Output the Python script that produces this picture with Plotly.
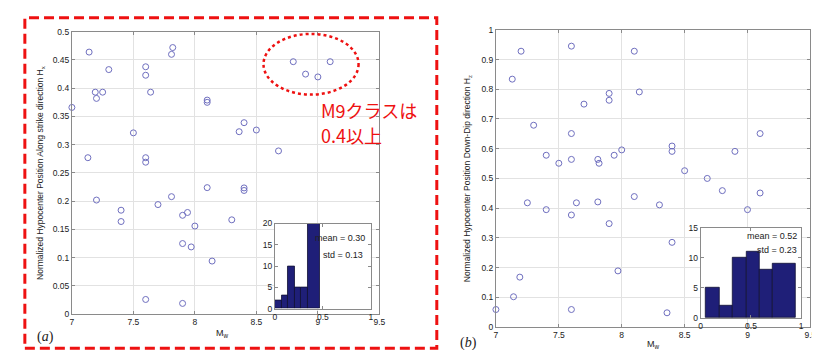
import numpy as np
import plotly.graph_objects as go

# ---------------- data ----------------
left_mw = [7.0, 7.14, 7.19, 7.25, 7.2, 7.3, 7.13, 7.5, 7.6, 7.6, 7.64, 7.6, 7.6, 7.82, 7.81,
           8.1, 8.1, 8.4, 8.36, 8.5, 8.68, 8.8, 8.9, 9.0, 9.1, 8.1, 8.4, 8.4, 7.2, 7.4, 7.4,
           7.7, 7.81, 7.9, 7.94, 8.0, 8.3, 7.9, 7.97, 8.14, 7.6, 7.9]
left_hx = [0.366, 0.464, 0.393, 0.393, 0.382, 0.433, 0.277, 0.321, 0.438, 0.423, 0.393, 0.277,
           0.269, 0.472, 0.46, 0.379, 0.375, 0.339, 0.323, 0.326, 0.289, 0.447, 0.425, 0.42,
           0.447, 0.224, 0.2235, 0.219, 0.202, 0.184, 0.164, 0.194, 0.208, 0.175, 0.18, 0.156,
           0.167, 0.125, 0.119, 0.094, 0.026, 0.019]

right_mw = [7.2, 7.13, 7.6, 8.1, 8.14, 7.9, 7.9, 7.7, 7.3, 7.6, 9.1, 7.4, 7.5, 7.6, 7.81, 7.82,
            7.94, 8.0, 8.4, 8.4, 8.9, 8.5, 8.68, 8.8, 9.1, 9.0, 7.25, 7.4, 7.6, 7.64, 7.81, 8.1,
            8.3, 7.9, 8.4, 7.97, 7.19, 7.14, 7.0, 7.6, 8.36]
right_hz = [0.928, 0.834, 0.945, 0.928, 0.791, 0.786, 0.763, 0.75, 0.679, 0.651, 0.651, 0.578,
            0.551, 0.564, 0.564, 0.551, 0.578, 0.596, 0.609, 0.591, 0.591, 0.526, 0.5, 0.459,
            0.451, 0.395, 0.418, 0.395, 0.377, 0.418, 0.421, 0.439, 0.411, 0.348, 0.285, 0.189,
            0.168, 0.102, 0.059, 0.059, 0.048]

left_hist_edges = [0.0, 0.069, 0.138, 0.207, 0.276, 0.345, 0.465]
left_hist_counts = [2, 3, 10, 5, 5, 20]
right_hist_edges = [0.05, 0.19, 0.323, 0.455, 0.587, 0.72, 0.95]
right_hist_counts = [5, 2, 10, 11, 8, 9]

left_stats = ["mean = 0.30", "std = 0.13"]
right_stats = ["mean = 0.52", "std = 0.23"]

left_ytitle = "Normalized Hypocenter Position Along strike direction H<sub>x</sub>"
right_ytitle = "Normalized Hypocenter Position Down-Dip direction H<sub>z</sub>"
xtitle = "M<sub>w</sub>"
note_lines = ["M9クラスは", "0.4以上"]

# ---------------- styling ----------------
W, H = 820, 350
FONT = "Liberation Sans, Arial, sans-serif"
MARK = "#6f6fbf"
BAR = "#1f1f78"
RED = "#ee1111"
AXC = "#8a8a8a"
GRID = "#e2e2e2"
TXT = "#222222"


def px_x(p):
    return p / W


def px_y(p):
    return 1 - p / H


def centers_widths(edges):
    e = np.array(edges)
    return (e[:-1] + e[1:]) / 2, np.diff(e)


fig = go.Figure()

fig.add_trace(go.Scatter(x=left_mw, y=left_hx, mode="markers", xaxis="x", yaxis="y",
                         marker=dict(symbol="circle-open", size=6, color=MARK, line=dict(width=1)),
                         cliponaxis=False, showlegend=False))
fig.add_trace(go.Scatter(x=right_mw, y=right_hz, mode="markers", xaxis="x2", yaxis="y2",
                         marker=dict(symbol="circle-open", size=6, color=MARK, line=dict(width=1)),
                         cliponaxis=False, showlegend=False))

lc, lw = centers_widths(left_hist_edges)
fig.add_trace(go.Bar(x=lc, y=left_hist_counts, width=lw, xaxis="x3", yaxis="y3",
                     marker=dict(color=BAR, line=dict(color="#111133", width=0.8)),
                     showlegend=False))
rc, rw = centers_widths(right_hist_edges)
fig.add_trace(go.Bar(x=rc, y=right_hist_counts, width=rw, xaxis="x4", yaxis="y4",
                     marker=dict(color=BAR, line=dict(color="#111133", width=0.8)),
                     showlegend=False))

common = dict(showline=True, linecolor=AXC, linewidth=1, mirror="ticks", ticks="inside",
              ticklen=3, tickcolor=AXC, zeroline=False,
              tickfont=dict(family=FONT, size=8.5, color=TXT))
main_grid = dict(showgrid=True, gridcolor=GRID, gridwidth=1)

fig.update_layout(
    width=W, height=H,
    margin=dict(l=0, r=0, t=0, b=0),
    paper_bgcolor="white", plot_bgcolor="white",
    showlegend=False,
    bargap=0,
    xaxis=dict(domain=[px_x(62.5), px_x(373)], range=[7, 9.5], dtick=0.5, anchor="y",
               **common, **main_grid),
    yaxis=dict(domain=[px_y(310), px_y(19.3)], range=[0, 0.5], dtick=0.05, anchor="x",
               **common, **main_grid),
    xaxis2=dict(domain=[px_x(490.7), px_x(808.3)], range=[7, 9.5], dtick=0.5, anchor="y2",
                **common, **main_grid),
    yaxis2=dict(domain=[px_y(323.3), px_y(17.3)], range=[0, 1], dtick=0.1, anchor="x2",
                **common, **main_grid),
    xaxis3=dict(domain=[px_x(267.5), px_x(364.3)], range=[0, 1], tickvals=[0, 0.5, 1],
                anchor="y3", showgrid=False, **common),
    yaxis3=dict(domain=[px_y(304.3), px_y(216.7)], range=[0, 20], tickvals=[0, 5, 10, 15, 20],
                anchor="x3", showgrid=False, **common),
    xaxis4=dict(domain=[px_x(697.5), px_x(799)], range=[0, 1], tickvals=[0, 0.5, 1],
                anchor="y4", showgrid=False, **common),
    yaxis4=dict(domain=[px_y(314), px_y(221)], range=[0, 15], tickvals=[0, 5, 10, 15],
                anchor="x4", showgrid=False, **common),
)

ann = []
# y titles
ann.append(dict(x=px_x(31), y=px_y(165), xref="paper", yref="paper", text=left_ytitle,
                textangle=-90, showarrow=False, xanchor="center", yanchor="middle",
                font=dict(family=FONT, size=8.5, color=TXT)))
ann.append(dict(x=px_x(461.5), y=px_y(170), xref="paper", yref="paper", text=right_ytitle,
                textangle=-90, showarrow=False, xanchor="center", yanchor="middle",
                font=dict(family=FONT, size=8.5, color=TXT)))
# x titles
ann.append(dict(x=px_x(215), y=px_y(330), xref="paper", yref="paper", text=xtitle,
                showarrow=False, xanchor="center", yanchor="middle",
                font=dict(family=FONT, size=9, color=TXT)))
ann.append(dict(x=px_x(650), y=px_y(341), xref="paper", yref="paper", text=xtitle,
                showarrow=False, xanchor="center", yanchor="middle",
                font=dict(family=FONT, size=9, color=TXT)))
# panel labels
ann.append(dict(x=px_x(36), y=px_y(334), xref="paper", yref="paper", text="(<i>a</i>)",
                showarrow=False, xanchor="center", yanchor="middle",
                font=dict(family="Liberation Serif, Times New Roman, serif", size=14, color=TXT)))
ann.append(dict(x=px_x(463), y=px_y(340), xref="paper", yref="paper", text="(<i>b</i>)",
                showarrow=False, xanchor="center", yanchor="middle",
                font=dict(family="Liberation Serif, Times New Roman, serif", size=14, color=TXT)))
# stats text
ann.append(dict(x=px_x(361), y=px_y(232), xref="paper", yref="paper", text=left_stats[0],
                showarrow=False, xanchor="right", yanchor="middle",
                font=dict(family=FONT, size=9, color=TXT)))
ann.append(dict(x=px_x(359), y=px_y(249), xref="paper", yref="paper", text=left_stats[1],
                showarrow=False, xanchor="right", yanchor="middle",
                font=dict(family=FONT, size=9, color=TXT)))
ann.append(dict(x=px_x(797), y=px_y(230), xref="paper", yref="paper", text=right_stats[0],
                showarrow=False, xanchor="right", yanchor="middle",
                font=dict(family=FONT, size=9, color=TXT)))
ann.append(dict(x=px_x(797), y=px_y(244), xref="paper", yref="paper", text=right_stats[1],
                showarrow=False, xanchor="right", yanchor="middle",
                font=dict(family=FONT, size=9, color=TXT)))
# red note
ann.append(dict(x=px_x(312), y=px_y(100), xref="paper", yref="paper", text=note_lines[0],
                showarrow=False, xanchor="left", yanchor="middle",
                font=dict(family="Noto Sans CJK JP", size=18, color=RED)))
ann.append(dict(x=px_x(312), y=px_y(126), xref="paper", yref="paper", text=note_lines[1],
                showarrow=False, xanchor="left", yanchor="middle",
                font=dict(family="Noto Sans CJK JP", size=18, color=RED)))
fig.update_layout(annotations=ann)

fig.add_shape(type="rect", xref="paper", yref="paper",
              x0=px_x(15), x1=px_x(431), y0=px_y(345), y1=px_y(5),
              line=dict(color=RED, width=3, dash="10px,5px"), layer="above")
fig.add_shape(type="circle", xref="paper", yref="paper",
              x0=px_x(256), x1=px_x(352), y0=px_y(84), y1=px_y(21.5),
              line=dict(color=RED, width=2.5, dash="dot"), layer="above")

fig.write_html("out.html")
